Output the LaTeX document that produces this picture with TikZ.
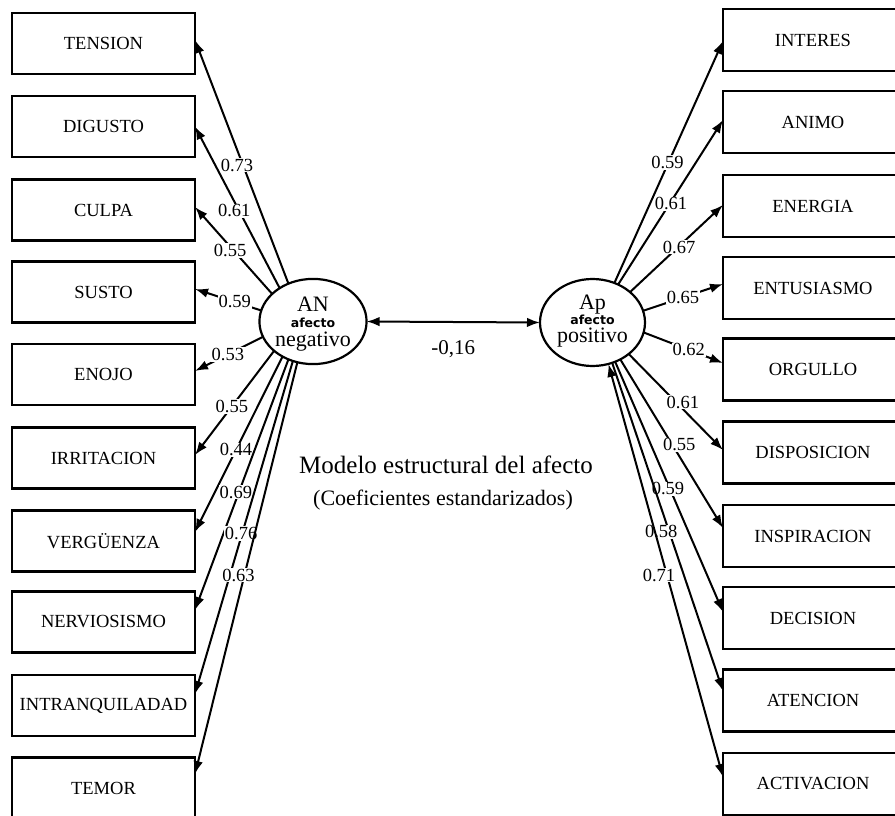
\documentclass[tikz,border=0pt]{standalone}
\usepackage{fontspec}
\setmainfont{Liberation Serif}
\newfontfamily\afont{DejaVu Sans}
\usetikzlibrary{shapes.geometric,arrows.meta}
\tikzset{ltip/.tip={Latex[length=13pt,width=9.5pt]}}
\begin{document}
\begin{tikzpicture}[x=1pt,y=-1pt,
  box/.style={draw, line width=2.3pt, rectangle, inner sep=0pt, outer sep=0pt, font=\fontsize{18.5}{20}\selectfont},
  lbox/.style={box, minimum width=183pt, minimum height=61pt},
  rbox/.style={box, minimum width=180pt, minimum height=62pt},
  lat/.style={ellipse, draw, line width=2.2pt, inner sep=0pt, outer sep=0pt, align=center},
  con/.style={line width=2pt, -{ltip}},
  lbl/.style={fill=white, inner sep=0.8pt, font=\fontsize{18.5}{18.5}\selectfont}]
\useasboundingbox (0,0) rectangle (895,816);
\clip (0,0) rectangle (895,816);
% left boxes
\node[lbox] (n1) at (103.5,43.5) {TENSION};
\node[lbox] (n2) at (103.5,126.5) {DIGUSTO};
\node[lbox] (n3) at (103.5,210) {CULPA};
\node[lbox] (n4) at (103.5,292) {SUSTO};
\node[lbox] (n5) at (103.5,374.5) {ENOJO};
\node[lbox] (n6) at (103.5,458) {IRRITACION};
\node[lbox] (n7) at (103.5,541) {VERGÜENZA};
\node[lbox] (n8) at (103.5,622) {NERVIOSISMO};
\node[lbox] (n9) at (103.5,705.5) {INTRANQUILADAD};
\node[lbox] (n10) at (103.5,788) {TEMOR};
% right boxes
\node[rbox] (m1) at (813,40) {INTERES};
\node[rbox] (m2) at (813,122) {ANIMO};
\node[rbox] (m3) at (813,206) {ENERGIA};
\node[rbox] (m4) at (813,288) {ENTUSIASMO};
\node[rbox] (m5) at (813,369.5) {ORGULLO};
\node[rbox] (m6) at (813,452.5) {DISPOSICION};
\node[rbox] (m7) at (813,536) {INSPIRACION};
\node[rbox] (m8) at (813,618) {DECISION};
\node[rbox] (m9) at (813,700.5) {ATENCION};
\node[rbox] (m10) at (813,784) {ACTIVACION};
% latent variables
\node[lat, minimum width=103pt, minimum height=77pt, font=\fontsize{22}{16}\selectfont] (AN) at (313,321.5)
  {\rule{0pt}{20.5pt}AN\\{\afont\bfseries\fontsize{12.5}{12.5}\selectfont afecto}\\[3pt]negativo};
\node[lat, minimum width=105pt, minimum height=87pt, font=\fontsize{22}{15}\selectfont] (Ap) at (592.5,322.5)
  {Ap\\{\afont\bfseries\fontsize{12.5}{12.5}\selectfont afecto}\\[3.5pt]positivo\rule[-7.6pt]{0pt}{7.6pt}};
% correlation
\draw[line width=2pt, {ltip}-{ltip}] (AN.east) -- node[midway, yshift=-27pt, font=\fontsize{21}{21}\selectfont] {-0,16} (Ap.west);
% left loadings
\draw[con] (AN.123) -- node[lbl,pos=0.486,xshift=-6pt]{0.73} ([yshift=3.5pt]n1.east);
\draw[con] (AN.135) -- node[lbl,pos=0.478,xshift=-5pt]{0.61} (n2.east);
\draw[con] (AN.146) -- node[lbl,pos=0.5,xshift=-3.5pt]{0.55} ([yshift=3pt]n3.east);
\draw[con] (AN.168) -- node[lbl,pos=0.4]{0.59} ([yshift=3pt]n4.east);
\draw[con] (AN.197) -- node[lbl,pos=0.516]{0.53} ([yshift=3.5pt]n5.east);
\draw[con] (AN.217) -- node[lbl,pos=0.534]{0.55} ([yshift=3pt]n6.east);
\draw[con] (AN.229) -- node[lbl,pos=0.532]{0.44} ([yshift=9pt]n7.east);
\draw[con] (AN.237) -- node[lbl,pos=0.53,xshift=-3pt]{0.69} ([yshift=12pt]n8.east);
\draw[con] (AN.243) -- node[lbl,pos=0.518,xshift=-1pt]{0.76} ([yshift=11.5pt]n9.east);
\draw[con] (AN.249) -- node[lbl,pos=0.517,xshift=-6pt]{0.63} ([yshift=14pt]n10.east);
% right loadings
\draw[con] (Ap.61) -- node[lbl,pos=0.498,xshift=-1pt]{0.59} ([yshift=-1pt]m1.west);
\draw[con] (Ap.56) -- node[lbl,pos=0.49,xshift=1.5pt]{0.61} ([yshift=2pt]m2.west);
\draw[con] (Ap.39) -- node[lbl,pos=0.517,xshift=1pt]{0.67} ([yshift=1pt]m3.west);
\draw[con] (Ap.13) -- node[lbl,pos=0.5]{0.65} ([yshift=4pt]m4.west);
\draw[con] (Ap.349) -- node[lbl,pos=0.568]{0.62} ([yshift=6.5pt]m5.west);
\draw[con] (Ap.319) -- node[lbl,pos=0.5,xshift=7pt]{0.61} ([yshift=2.5pt]m6.west);
\draw[con] (Ap.307) -- node[lbl,pos=0.506,xshift=7pt]{0.55} ([yshift=8pt]m7.west);
\draw[con] (Ap.300) -- node[lbl,pos=0.508,xshift=-2pt]{0.59} ([yshift=6pt]m8.west);
\draw[con] (Ap.296) -- node[lbl,pos=0.515,xshift=-8pt]{0.58} ([yshift=9.5pt]m9.west);
\draw[con, {ltip}-{ltip}] (Ap.291) -- node[lbl,pos=0.511,xshift=-8pt]{0.71} ([yshift=7pt]m10.west);
% title
\node[anchor=base, font=\fontsize{25}{25}\selectfont] (t1) at (446,473) {Modelo estructural del afecto};
\node[anchor=base, font=\fontsize{22}{22}\selectfont] (t2) at (443,505) {(Coeficientes estandarizados)};
\end{tikzpicture}
\end{document}
